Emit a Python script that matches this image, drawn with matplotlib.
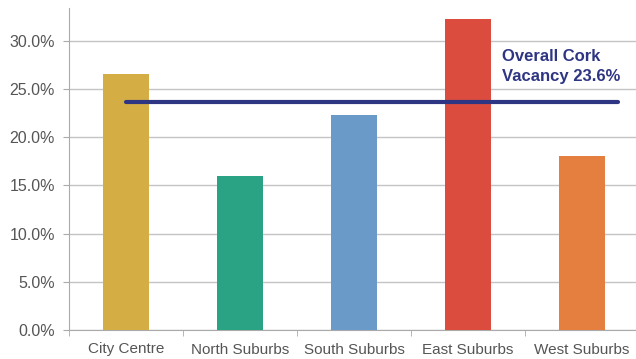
import matplotlib
matplotlib.use('Agg')
from matplotlib import pyplot as plt
from matplotlib.ticker import FuncFormatter

areas = ['City Centre', 'North Suburbs', 'South Suburbs', 'East Suburbs', 'West Suburbs']
vacancy = [26.6, 16.0, 22.3, 32.3, 18.1]
colors = ['#d4ae44', '#2aa384', '#6a9bc8', '#db4c3f', '#e57f40']
overall = 23.6
yticks = [0, 5, 10, 15, 20, 25, 30]

plt.rcParams['font.family'] = ['Liberation Sans', 'DejaVu Sans']

fig = plt.figure(figsize=(6.36, 3.59), dpi=100)
ax = fig.add_axes([69 / 636, 29 / 359, 570 / 636, 322 / 359])

ax.bar(range(len(areas)), vacancy, width=0.4, color=colors, zorder=3)
ax.plot([0.0, 4.32], [overall, overall], color='#2e3583', lw=3,
        solid_capstyle='round', zorder=4)
ax.text(3.3, 25.5, 'Overall Cork\nVacancy 23.6%', color='#2e3583',
        fontsize=12, fontweight='bold', va='bottom', ha='left',
        linespacing=1.45, zorder=5)

ax.set_xlim(-0.5, 4.5)
ax.set_ylim(0, 33.4)
ax.set_yticks(yticks)
ax.yaxis.set_major_formatter(FuncFormatter(lambda v, p: '%.1f%%' % v))
ax.yaxis.grid(True, color='#c4c4c4', lw=1, zorder=0)

ax.set_xticks(range(len(areas)))
ax.set_xticklabels(areas)
ax.set_xticks([i - 0.5 for i in range(len(areas) + 1)], minor=True)
ax.tick_params(axis='x', which='major', length=0, pad=9, labelsize=11,
               labelcolor='#555555')
ax.tick_params(axis='x', which='minor', length=4, color='#aaaaaa')
ax.tick_params(axis='y', length=4, color='#aaaaaa', labelsize=11.5,
               labelcolor='#555555', pad=6)

for s in ['top', 'right']:
    ax.spines[s].set_visible(False)
for s in ['left', 'bottom']:
    ax.spines[s].set_color('#aaaaaa')

fig.savefig('out.png', dpi=100)
